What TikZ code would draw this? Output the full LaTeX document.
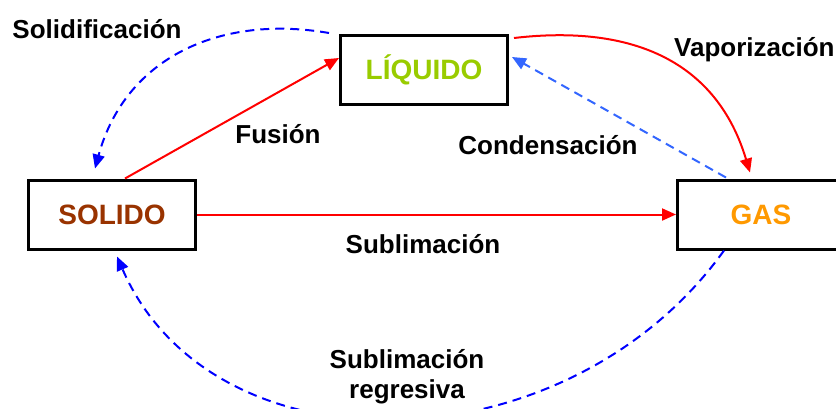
\documentclass[tikz,border=0pt]{standalone}
\usepackage{fontspec}
\setmainfont{Liberation Sans}
\usetikzlibrary{arrows.meta, positioning, calc}
\definecolor{verde}{HTML}{99CC00}
\definecolor{marron}{HTML}{993300}
\definecolor{naranja}{HTML}{FF9900}
\definecolor{azul}{HTML}{0000FF}
\definecolor{azulclaro}{HTML}{3366FF}
\definecolor{rojo}{HTML}{FF0000}

\begin{document}
\begin{tikzpicture}[x=1pt, y=-1pt, font=\bfseries\fontsize{26}{30}\selectfont]
		% estilos
			\tikzstyle{estado} = [draw, line width=3pt, minimum width=167pt, minimum height=69pt, inner sep=0pt, font=\bfseries\fontsize{28}{32}\selectfont]
			\tikzstyle{cambio} = [line width=2pt, -{Triangle[length=14pt,width=12pt]}]
			\tikzstyle{inverso} = [cambio, dash pattern=on 9pt off 6pt]
			\tikzstyle{lbl} = [align=center, inner sep=0pt]
			
			\useasboundingbox (0,0) rectangle (836,408);
			
			% estados
			\node [estado, text=verde] (liquido) at (424,70) {LÍQUIDO};
			\node [estado, text=marron] (solido) at (112,214.5) {SOLIDO};
			\node [estado, text=naranja, right=479pt of solido] (gas) {GAS};
			
			% textos
			\node [lbl] (lsolid) at (97,29) {Solidificación};
			\node [lbl] (lfus) at (278,134) {Fusión};
			\node [lbl, anchor=west] (lvap) at (674,50) {Vaporización};
			\node [lbl] (lcond) at (548,145) {Condensación};
			\node [lbl] (lsub) at (423,244) {Sublimación};
			\node [lbl] (lsubr) at (407,377) {Sublimación\\regresiva};
			
			% cambios de estado
			\draw [cambio, rojo] ([xshift=13pt]solido.north) -- ([yshift=12pt]liquido.west);
			\draw [cambio, rojo] (solido.east) -- (gas.west);
			\draw [cambio, rojo] ([xshift=5pt,yshift=-4pt]liquido.north east) .. controls +(120,-14) and +(-33,-110) .. ([xshift=-11pt,yshift=6pt]gas.north);
			
			\draw [inverso, azul] ([xshift=-10pt,yshift=1pt]liquido.north west) .. controls +(-110,-19) and +(30,-110) .. ([xshift=-17pt,yshift=10pt]solido.north);
			\draw [inverso, azulclaro] ([xshift=-35pt,yshift=1pt]gas.north) -- ([xshift=3pt,yshift=13pt]liquido.east);
			\draw [inverso, azul] ([xshift=-37pt]gas.south) .. controls +(-157,219) and +(96,221) .. ([xshift=5pt,yshift=-6pt]solido.south);
		\end{tikzpicture}
\end{document}
